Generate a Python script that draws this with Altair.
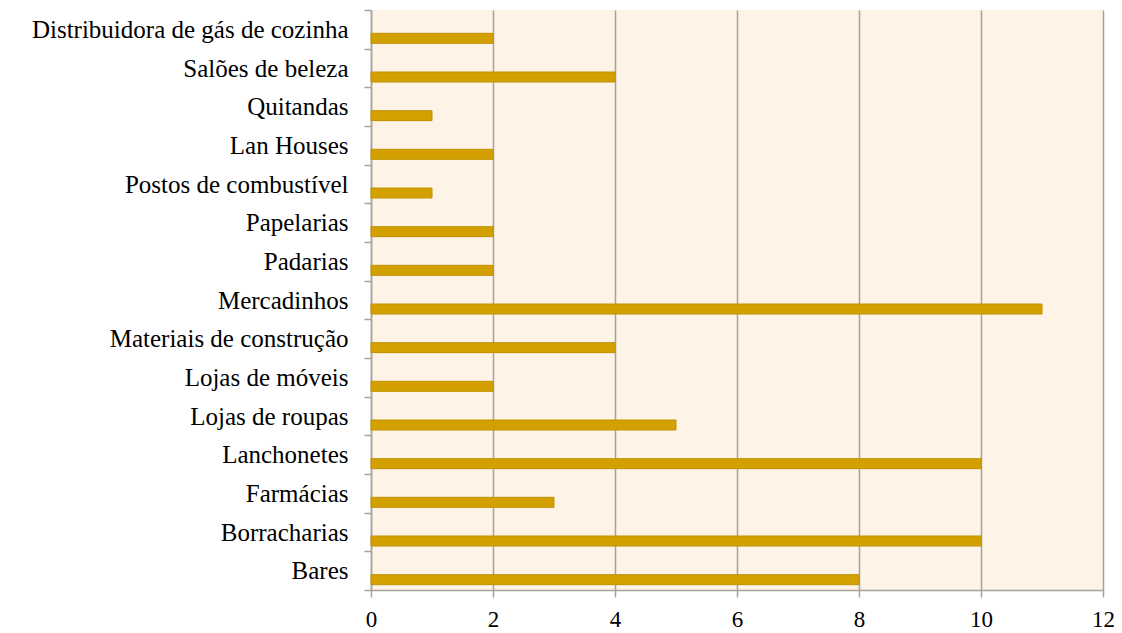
import altair as alt
import pandas as pd

categories = ["Distribuidora de gás de cozinha", "Salões de beleza", "Quitandas", "Lan Houses",
              "Postos de combustível", "Papelarias", "Padarias", "Mercadinhos",
              "Materiais de construção", "Lojas de móveis", "Lojas de roupas", "Lanchonetes",
              "Farmácias", "Borracharias", "Bares"]
values = [2, 4, 1, 2, 1, 2, 2, 11, 4, 2, 5, 10, 3, 10, 8]
x_ticks = [0, 2, 4, 6, 8, 10, 12]

df = pd.DataFrame({"cat": categories, "val": values})

chart = alt.Chart(df).mark_bar(
    size=10, yOffset=9, color="#D4A000", stroke="#BF9200", strokeWidth=1
).encode(
    x=alt.X("val:Q", scale=alt.Scale(domain=[0, 12], nice=False),
            axis=alt.Axis(values=x_ticks, title=None, grid=True, gridColor="#A8A29B",
                          gridWidth=1.5, domainColor="#A8A29B", domainWidth=1.5,
                          tickColor="#A8A29B", tickWidth=1.5, tickSize=7,
                          labelFont="Liberation Serif", labelFontSize=23, labelFlush=False,
                          labelColor="#000000", labelPadding=11)),
    y=alt.Y("cat:N", sort=categories,
            scale=alt.Scale(paddingInner=0, paddingOuter=0),
            axis=alt.Axis(title=None, grid=False, domainColor="#A8A29B", domainWidth=1.5,
                          tickColor="#A8A29B", tickWidth=1.5, tickSize=7, tickBand="extent",
                          labelFont="Liberation Serif", labelFontSize=25, labelLimit=0,
                          labelColor="#000000", labelPadding=16)),
).properties(
    width=732, height=580,
    autosize=alt.AutoSizeParams(type="none"),
    padding={"left": 363, "top": 2, "right": 11, "bottom": 46},
).configure_view(
    fill="#FEF3E7", stroke=None
)

chart.save("out.html", embed_options={"renderer": "svg", "actions": False})
